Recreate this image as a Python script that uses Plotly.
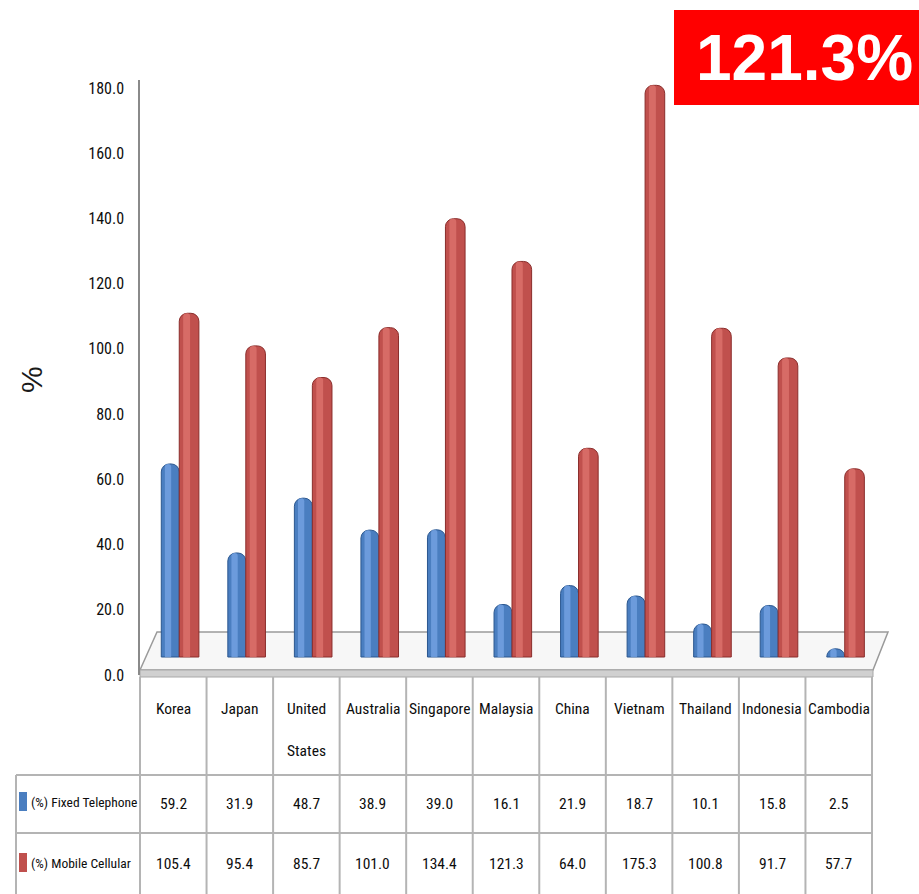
import plotly.graph_objects as go

# ---- data ----
countries = ["Korea", "Japan", "United<br>States", "Australia", "Singapore", "Malaysia",
             "China", "Vietnam", "Thailand", "Indonesia", "Cambodia"]
fixed_telephone = [59.2, 31.9, 48.7, 38.9, 39.0, 16.1, 21.9, 18.7, 10.1, 15.8, 2.5]
mobile_cellular = [105.4, 95.4, 85.7, 101.0, 134.4, 121.3, 64.0, 175.3, 100.8, 91.7, 57.7]
series_names = ["(%) Fixed Telephone", "(%) Mobile Cellular"]
y_ticks = [0, 20, 40, 60, 80, 100, 120, 140, 160, 180]
callout_text = "121.3%"

# ---- geometry helpers (pixel -> paper) ----
W, H = 919, 894
L, R, T, B = 140, 872, 80, 675
PX_PER_UNIT = (675 - 88) / 180.0
FLOOR_LIFT = 18  # bars stand on the raised floor


def px(x):
    return (x - L) / (R - L)


def py(y):
    return (B - y) / (B - T)


ncol = len(countries)
colw = (R - L) / ncol
idx = list(range(ncol))

FONT = "Roboto Condensed, DejaVu Sans Condensed, sans-serif"
INK = "#0d0d0d"

BLUE, BLUE_EDGE, BLUE_HI = "#4a7ec0", "#2b578f", "#74a3e2"
RED, RED_EDGE, RED_HI = "#c0504d", "#8a2d2b", "#dc726d"

fig = go.Figure()

# anchor trace so the primary x/y subplot (and its value axis) is drawn
fig.add_trace(go.Scatter(x=[0], y=[0], mode="markers", marker=dict(opacity=0),
                         hoverinfo="skip", showlegend=False))


def cylinder(values, offset, width, body, edge, hi, name):
    fig.add_trace(go.Bar(
        x=idx, y=values, yaxis="y2", offset=offset, width=width, name=name,
        marker=dict(color=body, line=dict(color=edge, width=1), cornerradius=8),
        hoverinfo="y+name", showlegend=False))
    fig.add_trace(go.Bar(
        x=idx, y=values, yaxis="y2", offset=offset + width * 0.2, width=width * 0.35,
        marker=dict(color=hi, line=dict(width=0), cornerradius=4, opacity=0.8),
        hoverinfo="skip", showlegend=False))


cylinder(fixed_telephone, -0.285, 0.27, BLUE, BLUE_EDGE, BLUE_HI, series_names[0])
cylinder(mobile_cellular, -0.015, 0.295, RED, RED_EDGE, RED_HI, series_names[1])

shapes = []

# floor of the plot
fx = [px(140), px(157), px(888), px(873)]
fy = [py(670), py(632), py(632), py(670)]
shapes.append(dict(type="path", xref="paper", yref="paper", layer="below",
                   path=f"M{fx[0]},{fy[0]} L{fx[1]},{fy[1]} L{fx[2]},{fy[2]} L{fx[3]},{fy[3]} Z",
                   fillcolor="#f7f7f7", line=dict(color="#9a9a9a", width=1.5)))
shapes.append(dict(type="rect", xref="paper", yref="paper", layer="below",
                   x0=px(140), x1=px(873), y0=py(677), y1=py(670),
                   fillcolor="#d0d0d0", line=dict(color="#a8a8a8", width=1)))

# data table grid
grid = dict(color="#b4b4b4", width=2)
for k in range(ncol + 1):
    shapes.append(dict(type="line", xref="paper", yref="paper",
                       x0=px(L + k * colw), x1=px(L + k * colw), y0=py(677), y1=py(894),
                       line=grid))
shapes.append(dict(type="line", xref="paper", yref="paper",
                   x0=px(16), x1=px(16), y0=py(775), y1=py(894), line=grid))
for yy in (775, 833):
    shapes.append(dict(type="line", xref="paper", yref="paper",
                       x0=px(16), x1=px(R), y0=py(yy), y1=py(yy), line=grid))

# legend keys in the table
for (y0, y1, c) in ((792, 811, BLUE), (853, 872, RED)):
    shapes.append(dict(type="rect", xref="paper", yref="paper",
                       x0=px(19), x1=px(27), y0=py(y1), y1=py(y0),
                       fillcolor=c, line=dict(width=0)))

# callout box
shapes.append(dict(type="rect", xref="paper", yref="paper",
                   x0=px(674), x1=px(919), y0=py(105), y1=py(10),
                   fillcolor="#ff0000", line=dict(width=0)))

annotations = []
tfont = dict(family=FONT, size=15.5, color=INK)
for i, name in enumerate(countries):
    cx = px(L + (i + 0.5) * colw)
    lines = name.split("<br>")
    for j, part in enumerate(lines):
        annotations.append(dict(xref="paper", yref="paper", x=cx, y=py(709 + 42 * j),
                                xanchor="center", yanchor="middle",
                                text=part, showarrow=False, font=tfont))
    annotations.append(dict(xref="paper", yref="paper", x=cx, y=py(804),
                            xanchor="center", yanchor="middle",
                            text=f"{fixed_telephone[i]:.1f}", showarrow=False, font=tfont))
    annotations.append(dict(xref="paper", yref="paper", x=cx, y=py(864),
                            xanchor="center", yanchor="middle",
                            text=f"{mobile_cellular[i]:.1f}", showarrow=False, font=tfont))

for name, yy in zip(series_names, (802, 863)):
    annotations.append(dict(xref="paper", yref="paper", x=px(29), y=py(yy),
                            xanchor="left", yanchor="middle",
                            text=name, showarrow=False, font=dict(family=FONT, size=13.5, color=INK)))

annotations.append(dict(xref="paper", yref="paper", x=px(31), y=py(380), text="%",
                        xanchor="center", yanchor="middle", textangle=-90, showarrow=False,
                        font=dict(family="Liberation Sans, Arial, sans-serif", size=30, color="#1a1a1a")))

annotations.append(dict(xref="paper", yref="paper", x=px(804), y=py(58),
                        xanchor="center", yanchor="middle", text=f"<b>{callout_text}</b>",
                        showarrow=False,
                        font=dict(family="Liberation Sans, Arial, sans-serif", size=64, color="white")))

y_top = (B - T) / PX_PER_UNIT
lift = FLOOR_LIFT / PX_PER_UNIT

fig.update_layout(
    width=W, height=H,
    margin=dict(l=L, r=W - R, t=T, b=H - B, pad=0),
    paper_bgcolor="white", plot_bgcolor="rgba(0,0,0,0)",
    barmode="overlay",
    xaxis=dict(range=[-0.5 - 0.105, ncol - 0.5 - 0.105], visible=False),
    yaxis=dict(range=[0, y_top], tickvals=y_ticks, ticktext=[f"{v:.1f}" for v in y_ticks],
               showgrid=False, zeroline=False, showline=True, linecolor="#8a8a8a", linewidth=1.5,
               ticks="", ticklabelstandoff=11, tickfont=dict(family=FONT, size=16, color=INK)),
    yaxis2=dict(range=[-lift, y_top - lift], overlaying="y", visible=False),
    shapes=shapes, annotations=annotations,
    showlegend=False,
)

fig.write_html("out.html")
